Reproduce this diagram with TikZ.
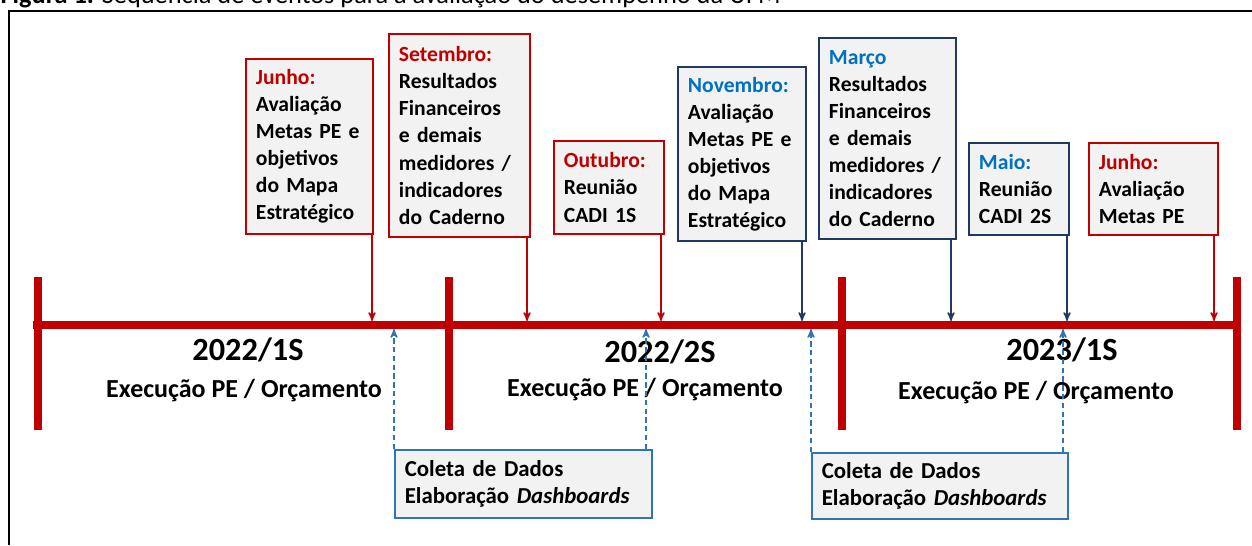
\documentclass[tikz,border=0pt]{standalone}
\usepackage{fontspec}
\setmainfont{Carlito}
\usepackage{tikz}
\usetikzlibrary{arrows,positioning}
\definecolor{darkred}{HTML}{C00000}
\definecolor{boxnavy}{HTML}{1F3864}
\definecolor{headblue}{HTML}{0070C0}
\definecolor{dashblue}{HTML}{2E75B6}
\definecolor{boxgray}{HTML}{F2F2F2}

\begin{document}
\begin{tikzpicture}[x=0.02cm,y=-0.02cm,>=stealth',semithick]
\tikzstyle{event node}=[rectangle,fill=boxgray,line width=1.1pt,inner xsep=0.2cm,inner ysep=0.1cm,anchor=north west,align=left,font=\bfseries\fontsize{12.3}{15.4}\selectfont]
\tikzstyle{year node}=[inner sep=0,font=\bfseries\fontsize{18.4}{21}\selectfont]
\tikzstyle{exec node}=[inner sep=0,font=\bfseries\fontsize{14.8}{17}\selectfont]

\tikzset{
	red node/.style={event node,draw=darkred},
	blue node/.style={event node,draw=boxnavy},
	data node/.style={event node,draw=dashblue,line width=0.9pt,font=\bfseries\fontsize{13}{15.4}\selectfont},
	red arrow/.style={->,draw=darkred,line width=0.8pt},
	blue arrow/.style={->,draw=boxnavy,line width=0.8pt},
	data arrow/.style={->,draw=dashblue,line width=0.8pt,dash pattern=on 3pt off 2pt},
	time line/.style={draw=darkred,line width=4.5pt}
}

    \useasboundingbox (0,0) rectangle (1252,545);
    \node[anchor=base west,inner sep=0,font=\fontsize{15}{17}\selectfont] (cap) at (0,3.5) {\textbf{Figura 1.} Sequência de eventos para a avaliação do desempenho da UFM};
    \draw[line width=1.2pt] (9,545) -- (9,11) -- (1252,11);

    \draw[time line] (33,325) -- (1241,325);
    \draw[time line] (38,277) -- (38,430) (449,277) -- (449,430)
                     (842,277) -- (842,430) (1237,277) -- (1237,430);

    \node[red node,text width=2.14cm,minimum height=3.5cm] (jun1) at (245,58) {\textcolor{darkred}{Junho:}\\Avaliação\\Metas PE e\\objetivos\\do Mapa\\Estratégico};
    \node[red node,text width=2.42cm,minimum height=4.06cm] (set) at (388,33) {\textcolor{darkred}{Setembro:}\\Resultados\\Financeiros\\e demais\\medidores /\\indicadores\\do Caderno};
    \node[red node,text width=1.8cm,minimum height=1.86cm] (out) at (553,140) {\textcolor{darkred}{Outubro:}\\Reunião\\CADI 1S};
    \node[blue node,text width=2.16cm,minimum height=3.48cm] (nov) at (677,66) {\textcolor{headblue}{Novembro:}\\Avaliação\\Metas PE e\\objetivos\\do Mapa\\Estratégico};
    \node[blue node,text width=2.34cm,minimum height=4.02cm] (mar) at (818,37) {\textcolor{headblue}{Março}\\Resultados\\Financeiros\\e demais\\medidores /\\indicadores\\do Caderno};
    \node[blue node,text width=1.6cm,minimum height=1.84cm] (mai) at (968,142) {\textcolor{headblue}{Maio:}\\Reunião\\CADI 2S};
    \node[red node,text width=2.18cm,minimum height=1.84cm] (jun2) at (1088,142) {\textcolor{darkred}{Junho:}\\Avaliação\\Metas PE};

    \node[data node,text width=4.74cm,minimum height=1.36cm] (col1) at (394,449) {Coleta de Dados\\Elaboração \textit{Dashboards}};
    \node[data node,text width=4.72cm,minimum height=1.32cm] (col2) at (811,452) {Coleta de Dados\\Elaboração \textit{Dashboards}};

    \node[year node] (y1) at (248,350) {2022/1S};
    \node[year node] (y2) at (660,352) {2022/2S};
    \node[year node] (y3) at (1062,350) {2023/1S};
    \node[exec node] (e1) at (244,391) {Execução PE / Orçamento};
    \node[exec node] (e2) at (645,390) {Execução PE / Orçamento};
    \node[exec node] (e3) at (1036,393) {Execução PE / Orçamento};

    \coordinate (m1) at (372,321);
    \coordinate (m2) at (527,321);
    \coordinate (m3) at (661,321);
    \coordinate (m4) at (802,321);
    \coordinate (m5) at (951,321);
    \coordinate (m6) at (1067,321);
    \coordinate (m7) at (1214,321);
    \coordinate (d1) at (394,329);
    \coordinate (d2) at (646,329);
    \coordinate (d3) at (811,329);
    \coordinate (d4) at (1063,329);

    \draw[red arrow] (jun1.south -| m1) -- (m1);
    \draw[red arrow] (set.south -| m2) -- (m2);
    \draw[red arrow] (out.south -| m3) -- (m3);
    \draw[blue arrow] (nov.south -| m4) -- (m4);
    \draw[blue arrow] (mar.south -| m5) -- (m5);
    \draw[blue arrow] (mai.south -| m6) -- (m6);
    \draw[red arrow] (jun2.south -| m7) -- (m7);
    \draw[data arrow] (col1.north -| d1) -- (d1);
    \draw[data arrow] (col1.north -| d2) -- (d2);
    \draw[data arrow] (col2.north -| d3) -- (d3);
    \draw[data arrow] (col2.north -| d4) -- (d4);
\end{tikzpicture}
\end{document}
